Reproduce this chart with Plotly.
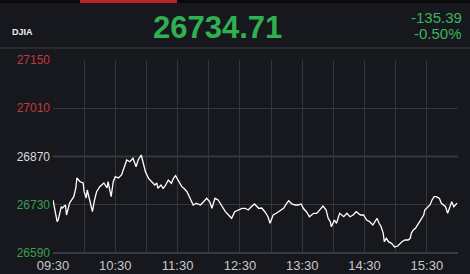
import plotly.graph_objects as go

# ---- data ----
times = ["09:30","09:34","09:35","09:38","09:39","09:42","09:43","09:45","09:46","09:50",
         "09:52","09:53","09:56","09:59","10:00","10:02","10:03","10:06","10:08","10:10",
         "10:12","10:15","10:17","10:19","10:22","10:23","10:26","10:28","10:30","10:33",
         "10:36","10:39","10:41","10:44","10:47","10:50","10:52","10:55","10:57","10:59",
         "11:02","11:05","11:08","11:10","11:11","11:14","11:16","11:18","11:21","11:24",
         "11:26","11:28","11:31","11:34","11:36","11:39","11:42","11:45","11:48","11:52",
         "11:55","11:58","12:01","12:03","12:06","12:09","12:12","12:16","12:19","12:22",
         "12:25","12:28","12:32","12:35","12:38","12:41","12:44","12:48","12:51","12:54",
         "12:57","12:59","13:02","13:05","13:09","13:12","13:15","13:17","13:20","13:23",
         "13:26","13:29","13:31","13:34","13:37","13:41","13:44","13:47","13:50","13:53",
         "13:55","13:57","13:58","14:01","14:03","14:06","14:10","14:13","14:16","14:19",
         "14:22","14:26","14:29","14:32","14:35","14:38","14:42","14:44","14:46","14:48",
         "14:49","14:51","14:53","14:56","14:59","15:02","15:06","15:09","15:12","15:14",
         "15:15","15:17","15:19","15:22","15:23","15:27","15:28","15:31","15:33","15:35",
         "15:37","15:39","15:42","15:44","15:46","15:48","15:50","15:52","15:54","15:56",
         "15:59"]
values = [26743.8,26680.8,26685.7,26724.3,26720.6,26729.3,26700.3,26724.3,26735.1,26753.4,
          26778.6,26807.6,26796.9,26793.1,26767.9,26749.6,26772.8,26735.1,26709.8,26743.8,
          26767.9,26782.4,26787.3,26793.1,26778.6,26796.9,26753.4,26796.9,26811.4,26807.6,
          26816.3,26840.4,26859.8,26854.9,26864.8,26840.4,26859.8,26874.3,26850.3,26825.9,
          26806.7,26796.9,26787.3,26793.1,26777.7,26787.3,26777.7,26784.4,26801.8,26792.2,
          26806.7,26814.3,26796.9,26782.4,26777.7,26767.9,26748.7,26729.3,26734.2,26729.3,
          26738.8,26748.7,26738.8,26719.7,26748.7,26743.8,26729.3,26709.8,26700.3,26690.7,
          26709.8,26714.8,26719.7,26719.7,26714.8,26724.3,26732.2,26719.7,26720.6,26709.8,
          26695.3,26676.2,26700.3,26705.2,26714.8,26719.7,26734.2,26741.7,26732.2,26729.3,
          26729.3,26732.2,26719.7,26709.8,26695.3,26705.2,26705.2,26714.8,26726.4,26714.8,
          26690.7,26680.8,26666.3,26685.7,26676.2,26705.2,26695.3,26705.2,26695.3,26700.3,
          26709.8,26700.3,26700.3,26685.7,26680.8,26671.2,26690.7,26676.2,26666.3,26647.2,
          26622.8,26632.6,26622.8,26618.1,26607.4,26610.3,26622.8,26627.7,26627.7,26632.6,
          26647.2,26656.7,26661.7,26676.2,26680.8,26700.3,26714.8,26724.3,26729.3,26743.8,
          26753.4,26753.4,26748.7,26734.2,26729.3,26724.3,26705.2,26719.7,26738.8,26724.3,
          26734.71]

y_ticks = [26590, 26730, 26870, 27010, 27150]
y_tick_colors = ["#3a9d4f", "#3a9d4f", "#dcdcdc", "#c23a3a", "#c23a3a"]
x_ticks = ["09:30", "10:30", "11:30", "12:30", "13:30", "14:30", "15:30"]
prev_close = 26870.10
last_value = "26734.71"
change = "-135.39"
change_pct = "-0.50%"
title = "DJIA"

DAY = "2019-11-22 "
BG = "#16181d"
GRID = "#34363b"

W, H = 470, 274
ML, MR, MT, MB = 53, 12, 60, 21
PW, PH = W - ML - MR, H - MT - MB

def px(x):
    return (x - ML) / PW

def py(y):
    return (H - MB - y) / PH

fig = go.Figure()
fig.add_trace(go.Scatter(
    x=[DAY + t for t in times], y=values, mode="lines",
    line=dict(color="#ffffff", width=1.3), hoverinfo="skip", showlegend=False))

fig.update_layout(
    width=W, height=H,
    margin=dict(l=ML, r=MR, t=MT, b=MB),
    paper_bgcolor=BG, plot_bgcolor=BG,
    font=dict(family="Liberation Sans, Arial, sans-serif"),
    xaxis=dict(
        type="date", automargin=False,
        range=[DAY + "09:30", DAY + "16:00"],
        tickvals=[DAY + t for t in x_ticks],
        ticktext=x_ticks,
        showgrid=True, gridcolor=GRID, gridwidth=1,
        minor=dict(dtick=1800000, tick0=DAY + "09:30", showgrid=True, gridcolor=GRID, gridwidth=1),
        ticks="", showline=False, zeroline=False,
        tickfont=dict(size=13, color="#c8c8c8"),
        ticklabelstandoff=3,
    ),
    yaxis=dict(
        automargin=False,
        range=[26590, 27150],
        tickvals=y_ticks,
        ticktext=[f"<span style='color:{c}'>{v}</span>" for v, c in zip(y_ticks, y_tick_colors)],
        showgrid=True, gridcolor=GRID, gridwidth=1,
        ticks="", showline=False, zeroline=False,
        tickfont=dict(size=12, color="#dcdcdc"),
        ticklabelstandoff=2,
    ),
)

# previous close reference line
fig.add_shape(type="line", xref="paper", yref="y", x0=0, x1=1, y0=prev_close, y1=prev_close,
              line=dict(color="#55575c", width=1.6), layer="below")
# bottom edge
fig.add_shape(type="line", xref="paper", yref="paper", x0=0, x1=1, y0=0, y1=0,
              line=dict(color="#45474c", width=1.5), layer="below")

# header decorations
fig.add_shape(type="rect", xref="paper", yref="paper", x0=px(0), x1=px(W), y0=py(3), y1=py(0),
              fillcolor="#0a0a0c", line=dict(width=0))
fig.add_shape(type="rect", xref="paper", yref="paper", x0=px(80), x1=px(177), y0=py(3), y1=py(0),
              fillcolor="#b8232b", line=dict(width=0))
fig.add_shape(type="line", xref="paper", yref="paper", x0=px(0), x1=px(W), y0=py(48), y1=py(48),
              line=dict(color="#3a3b3f", width=1))

fig.add_annotation(xref="paper", yref="paper", x=px(217), y=py(27), text=f"<b>{last_value}</b>",
                   showarrow=False, xanchor="center", yanchor="middle",
                   font=dict(size=31, color="#2fb150", family="Liberation Sans, Arial, sans-serif"))
fig.add_annotation(xref="paper", yref="paper", x=px(464), y=py(17), text=change,
                   showarrow=False, xanchor="right", yanchor="middle", height=14,
                   font=dict(size=15, color="#3cb55a"))
fig.add_annotation(xref="paper", yref="paper", x=px(464), y=py(33), text=change_pct,
                   showarrow=False, xanchor="right", yanchor="middle", height=14,
                   font=dict(size=15, color="#3cb55a"))
fig.add_annotation(xref="paper", yref="paper", x=px(10), y=py(32), text=f"<b>{title}</b>",
                   showarrow=False, xanchor="left", yanchor="middle",
                   font=dict(size=9, color="#f0f0f0"))

fig.write_html("out.html")
